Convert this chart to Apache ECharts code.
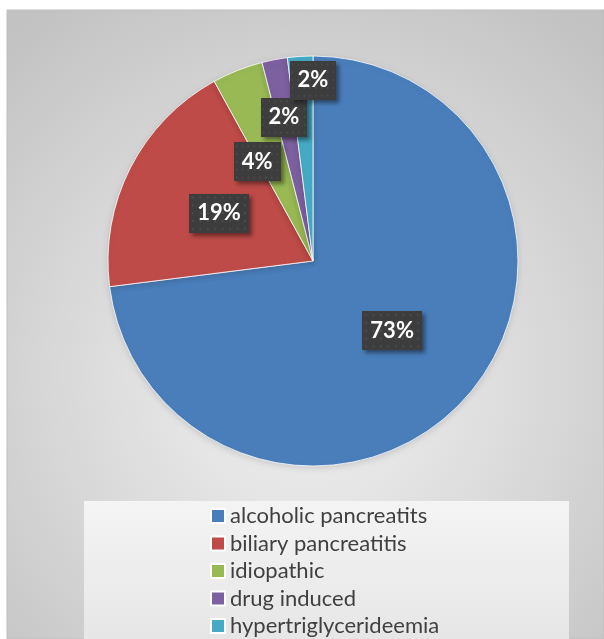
<!DOCTYPE html>
<html>
<head>
<meta charset="utf-8">
<style>
  html, body { margin: 0; padding: 0; background: #ffffff; }
  #chart { width: 604px; height: 639px; }
</style>
<script src="https://cdn.jsdelivr.net/npm/echarts@6/dist/echarts.min.js"></script>
</head>
<body>
<div id="chart"></div>
<script>
// Causes of pancreatitis, share of cases (%)
const categories = [
  'alcoholic pancreatits',
  'biliary pancreatitis',
  'idiopathic',
  'drug induced',
  'hypertriglycerideemia'
];
const shares = [73, 19, 4, 2, 2];

const sliceColors = ['#4a7ebb', '#be4b48', '#98b954', '#7d60a0', '#46aac5'];

// The two thinnest slices have their labels anchored at the pie centre and
// then lifted up; the others sit mid-radius inside their slice.
const labelAnchor = ['inside', 'inside', 'inside', 'center', 'center'];
const labelNudge = [[0, 0], [0, 0], [-17, -1], [-29, -144], [0, -181]];

// Dark dotted fill for the value labels
function dottedTile() {
  const c = document.createElement('canvas');
  c.width = 64; c.height = 40;
  const g = c.getContext('2d');
  g.fillStyle = '#3d3d3d';
  g.fillRect(0, 0, 64, 40);
  g.fillStyle = '#4c4c4c';
  for (let y = 3; y < 40; y += 8) {
    for (let x = 3; x < 64; x += 8) {
      g.fillRect(x, y, 2, 2);
    }
  }
  return c;
}
const tile = dottedTile();

const chart = echarts.init(document.getElementById('chart'), null, { renderer: 'canvas' });

chart.setOption({
  animation: false,
  backgroundColor: '#ffffff',
  graphic: [
    {
      type: 'rect',
      z: -10,
      shape: { x: 7, y: 10, width: 597, height: 629 },
      style: {
        fill: {
          type: 'radial', x: 0.5, y: 0.58, r: 0.75,
          colorStops: [
            { offset: 0, color: '#f3f3f3' },
            { offset: 1, color: '#c2c2c2' }
          ]
        },
        stroke: '#bdbdbd',
        lineWidth: 1
      }
    },
    {
      type: 'rect',
      z: -9,
      shape: { x: 84, y: 501, width: 485, height: 140 },
      style: {
        fill: {
          type: 'linear', x: 0, y: 0, x2: 0, y2: 1,
          colorStops: [
            { offset: 0, color: '#f4f4f4' },
            { offset: 1, color: '#e6e6e6' }
          ]
        }
      }
    }
  ],
  legend: {
    orient: 'vertical',
    left: 210,
    top: 505,
    height: 300,
    padding: 0,
    itemWidth: 14,
    itemHeight: 14,
    itemGap: 5.5,
    icon: 'rect',
    selectedMode: false,
    data: categories,
    textStyle: {
      fontFamily: 'Lato',
      fontSize: 22,
      lineHeight: 22,
      color: '#404040'
    }
  },
  series: [
    {
      type: 'pie',
      center: [313, 261],
      radius: 205,
      startAngle: 90,
      clockwise: true,
      avoidLabelOverlap: false,
      data: categories.map((name, i) => ({
        name: name,
        value: shares[i],
        itemStyle: { color: sliceColors[i] },
        label: { position: labelAnchor[i] }
      })),
      itemStyle: {
        borderColor: '#ffffff',
        borderWidth: 0.8,
        shadowColor: 'rgba(0,0,0,0.12)',
        shadowBlur: 6,
        shadowOffsetY: 2
      },
      label: {
        show: true,
        position: 'inside',
        formatter: p => p.value + '%',
        fontFamily: 'Lato',
        fontWeight: 'bold',
        fontSize: 22,
        color: '#ffffff',
        backgroundColor: { image: tile },
        padding: [9, 8, 8, 8],
        shadowColor: 'rgba(0,0,0,0.45)',
        shadowBlur: 4,
        shadowOffsetX: 3,
        shadowOffsetY: 3
      },
      labelLine: { show: false },
      labelLayout: function (params) {
        const n = labelNudge[params.dataIndex] || [0, 0];
        return { dx: n[0], dy: n[1] };
      },
      emphasis: { disabled: true }
    }
  ]
});
</script>
</body>
</html>
